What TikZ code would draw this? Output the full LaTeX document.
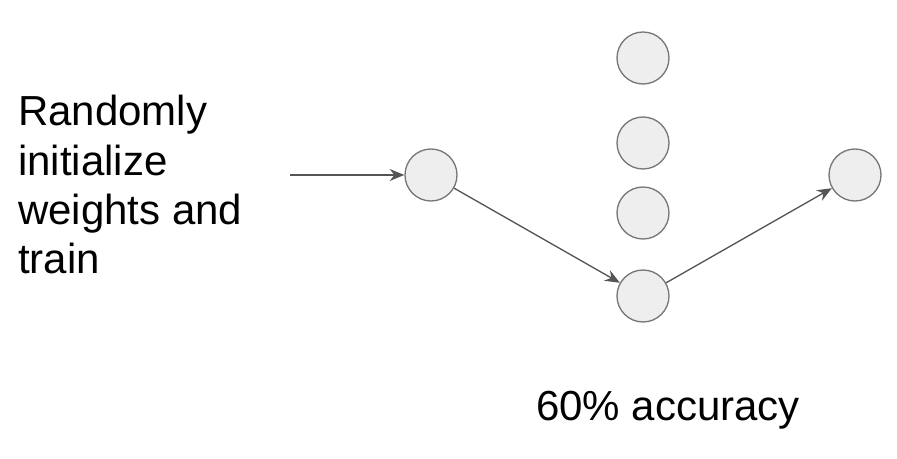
\documentclass[tikz,border=0pt]{standalone}
\usepackage{fontspec}
\setmainfont{Liberation Sans}
\usetikzlibrary{arrows.meta}
\definecolor{unitfill}{HTML}{EEEEEE}
\definecolor{unitline}{HTML}{777777}
\definecolor{edgecol}{HTML}{555555}
\tikzset{
  unit/.style={circle, draw=unitline, fill=unitfill, line width=1pt, minimum size=39pt, inner sep=0pt},
  edge/.style={draw=edgecol, line width=1pt, -{Stealth[length=11pt,width=9pt]}},
  lbl/.style={font=\fontsize{31.5}{37}\selectfont, align=left}
}
\begin{document}
\begin{tikzpicture}[x=0.75pt,y=-0.75pt]
\useasboundingbox (0,0) rectangle (897,459);

\node[unit] (in) at (431,175) {};
\node[unit] (h1) at (643,58) {};
\node[unit] (h2) at (643,143) {};
\node[unit] (h3) at (643,213) {};
\node[unit] (h4) at (643,296) {};
\node[unit] (out) at (855,175) {};

\node[lbl, anchor=north west, inner sep=0pt] (note) at (18,95) {Randomly\\initialize\\weights and\\train};
\coordinate (start) at (290,175);
\node[lbl] (acc) at (668,410) {60\% accuracy};

\draw[edge] (start) -- (in);
\draw[edge] (in) -- (h4);
\draw[edge] (h4) -- (out);
\end{tikzpicture}
\end{document}
